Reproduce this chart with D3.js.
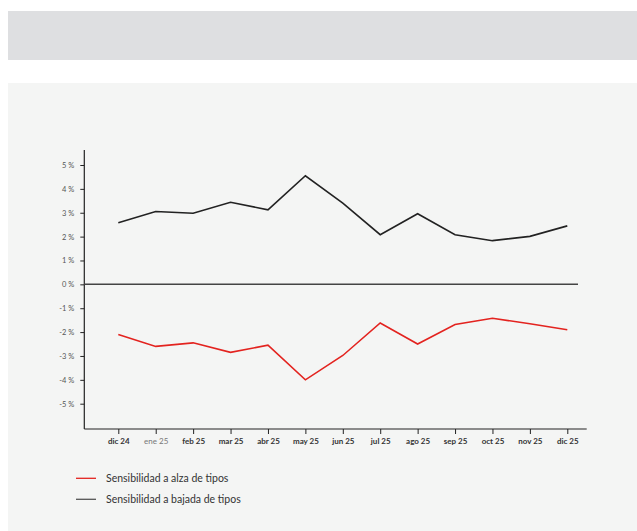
<!DOCTYPE html>
<html><head><meta charset="utf-8">
<script src="https://cdn.jsdelivr.net/npm/d3@7"></script>
<style>
html,body{margin:0;padding:0;background:#fff;}
svg{display:block;}
text{font-family:Lato,"Open Sans",sans-serif;}
</style></head>
<body><svg id="c" width="637" height="531"></svg>
<script>
const months = ["dic 24","ene 25","feb 25","mar 25","abr 25","may 25","jun 25","jul 25","ago 25","sep 25","oct 25","nov 25","dic 25"];
const alzaTipos = [-2.1,-2.6,-2.45,-2.85,-2.55,-4.0,-2.98,-1.62,-2.5,-1.68,-1.42,-1.65,-1.9];
const bajadaTipos = [2.58,3.05,2.98,3.44,3.12,4.55,3.4,2.08,2.96,2.08,1.83,2.01,2.45];
const yTicks = [5,4,3,2,1,0,-1,-2,-3,-4,-5];
const seriesNames = ["Sensibilidad a alza de tipos","Sensibilidad a bajada de tipos"];
const seriesColors = ["#e3231f","#222222"];

const svg = d3.select("#c");
svg.append("rect").attr("x",8).attr("y",11).attr("width",629).attr("height",49).attr("fill","#dedfe1");
svg.append("rect").attr("x",8).attr("y",83).attr("width",629).attr("height",448).attr("fill","#f4f5f4");

const x = d3.scalePoint().domain(months).range([118.3,567.3]);
const y = d3.scaleLinear().domain([-5,5]).range([403.7,165]);
const axX = 84.3, axTop = 150, axBottom = 429, axRight = 586.7;

// y axis
const ya = svg.append("g").attr("transform",`translate(${axX},0)`)
  .call(d3.axisLeft(y).tickValues(yTicks).tickSize(4).tickPadding(6).tickFormat(d=>d+" %"));
ya.select(".domain").remove();
ya.selectAll(".tick line").attr("stroke","#222");
ya.selectAll("text").attr("fill","#555").style("font-size","7.5px");
svg.append("line").attr("x1",axX).attr("x2",axX).attr("y1",axTop).attr("y2",axBottom).attr("stroke","#222").attr("stroke-width",1.2);

// x axis
const xa = svg.append("g").attr("transform",`translate(0,${axBottom})`)
  .call(d3.axisBottom(x).tickSize(5).tickPadding(4));
xa.select(".domain").remove();
xa.selectAll(".tick line").attr("stroke","#222");
xa.selectAll("text").attr("fill","#333").style("font-size","8px").style("font-weight","bold")
  .filter(d=>d==="ene 25").style("font-weight","normal").attr("fill","#777");
svg.append("line").attr("x1",axX).attr("x2",axRight).attr("y1",axBottom).attr("y2",axBottom).attr("stroke","#222").attr("stroke-width",1.2);

// zero line
svg.append("line").attr("x1",axX).attr("x2",578).attr("y1",y(0)).attr("y2",y(0)).attr("stroke","#444").attr("stroke-width",1.5);

const line = d3.line().x((d,i)=>x(months[i])).y(d=>y(d));
[alzaTipos,bajadaTipos].forEach((s,k)=>{
  svg.append("path").datum(s).attr("d",line).attr("fill","none")
    .attr("stroke",seriesColors[k]).attr("stroke-width",1.6).attr("stroke-linejoin","miter");
});

// legend
seriesNames.forEach((n,k)=>{
  const ly = 478.3 + k*21;
  svg.append("line").attr("x1",76).attr("x2",96).attr("y1",ly).attr("y2",ly)
    .attr("stroke",k===0?"#e3231f":"#555").attr("stroke-width",1.3);
  svg.append("text").attr("x",106).attr("y",ly).attr("dy","0.35em")
    .attr("fill","#333").style("font-size","10.5px").text(n);
});
</script></body></html>
